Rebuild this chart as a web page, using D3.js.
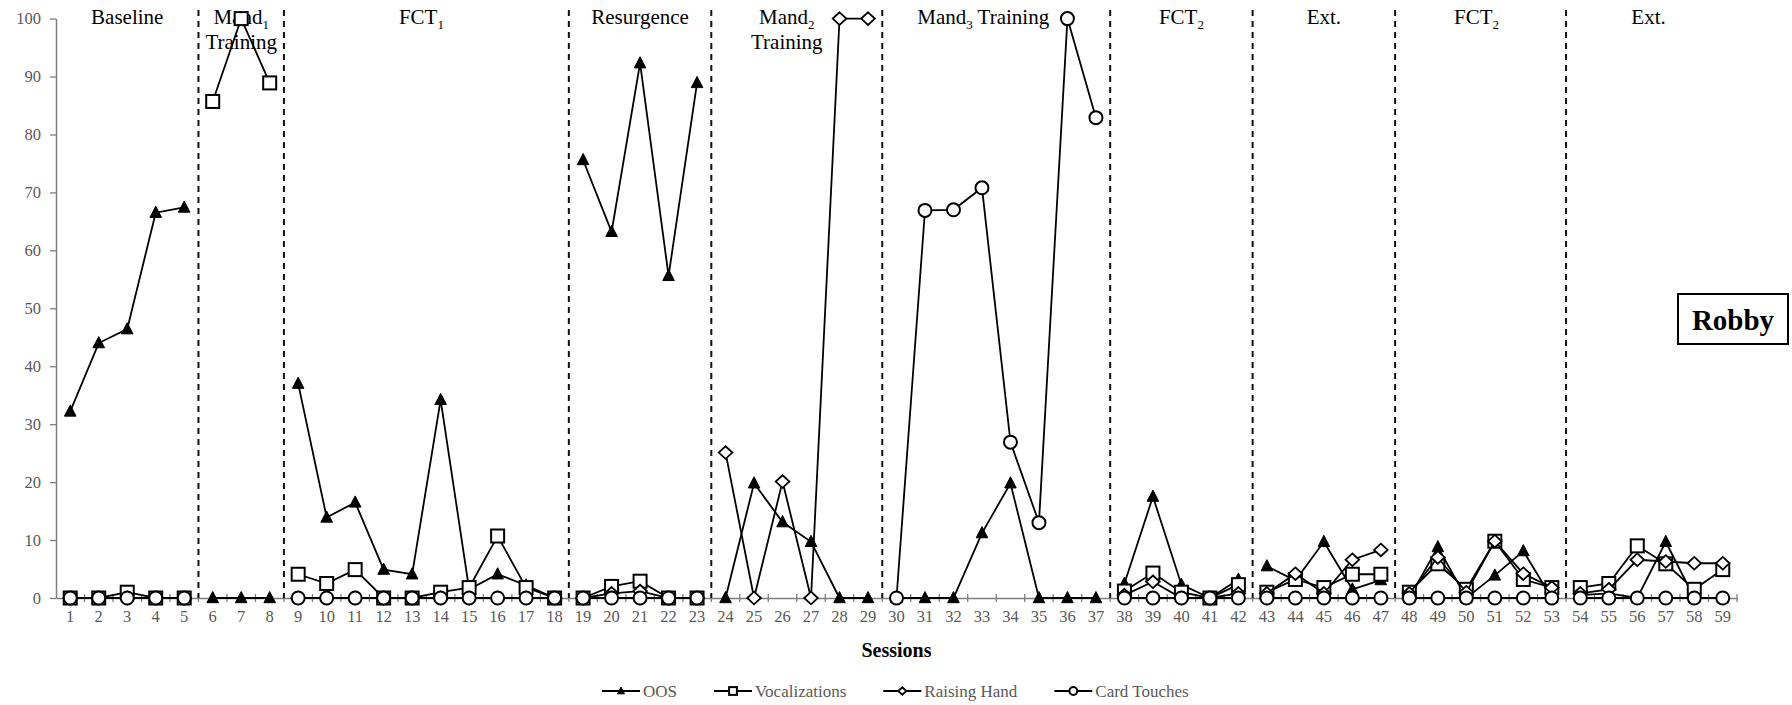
<!DOCTYPE html>
<html>
<head>
<meta charset="utf-8">
<script src="https://cdnjs.cloudflare.com/ajax/libs/d3/7.8.5/d3.min.js"></script>
<style>
  body { margin: 0; background: #fff; }
  svg { display: block; font-family: "Liberation Serif", "Times New Roman", serif; }
</style>
</head>
<body>
<svg id="chart" width="1792" height="705"></svg>
<script>
var sessions = [1, 2, 3, 4, 5, 6, 7, 8, 9, 10, 11, 12, 13, 14, 15, 16, 17, 18, 19, 20,
                21, 22, 23, 24, 25, 26, 27, 28, 29, 30, 31, 32, 33, 34, 35, 36, 37, 38, 39, 40,
                41, 42, 43, 44, 45, 46, 47, 48, 49, 50, 51, 52, 53, 54, 55, 56, 57, 58, 59];

// values per session, null = not measured in that phase
var oos = [32.2, 44, 46.4, 66.5, 67.4,
           0, 0, 0,
           37, 13.9, 16.5, 4.9, 4.1, 34.2, 1.5, 4.1, 2.2, 0,
           75.6, 63.2, 92.3, 55.6, 88.9,
           0, 19.8, 13.1, 9.7, 0, 0,
           0, 0, 0, 11.2, 19.8, 0, 0, 0,
           2.5, 17.5, 2.3, 0, 3.2,
           5.5, 3.0, 9.7, 1.5, 3.1,
           0, 8.8, 0, 3.9, 8.1, 0,
           0.5, 0.8, 0, 9.7, 0, 0];

var vocalizations = [0, 0, 1, 0, 0,
           85.7, 100, 88.9,
           4.1, 2.5, 4.9, 0, 0, 1.0, 1.8, 10.7, 1.8, 0,
           0, 2.0, 2.9, 0, 0,
           null, null, null, null, null, null,
           null, null, null, null, null, null, null, null,
           1.2, 4.3, 1.0, 0, 2.3,
           1.0, 3.2, 1.8, 4.1, 4.1,
           1.0, 5.9, 1.5, 9.8, 3.2, 1.8,
           1.8, 2.5, 9.0, 5.9, 1.5, 4.9];

var raisingHand = [0, 0, 0, 0, 0,
           null, null, null,
           0, 0, 0, 0, 0, 0, 0, 0, 0, 0,
           0, 0.8, 1.2, 0, 0,
           25.1, 0, 20.1, 0, 100, 100,
           null, null, null, null, null, null, null, null,
           0.5, 2.8, 0, 0, 0.8,
           0.8, 4.2, 0.8, 6.6, 8.3,
           0.8, 7.0, 1.0, 9.8, 4.2, 1.8,
           0.8, 1.5, 6.6, 6.3, 6.0, 6.0];

var cardTouches = [0, 0, 0, 0, 0,
           null, null, null,
           0, 0, 0, 0, 0, 0, 0, 0, 0, 0,
           0, 0, 0, 0, 0,
           null, null, null, null, null, null,
           0, 66.9, 67, 70.8, 26.9, 13.0, 100, 82.9,
           0, 0, 0, 0, 0,
           0, 0, 0, 0, 0,
           0, 0, 0, 0, 0, 0,
           0, 0, 0, 0, 0, 0];

var seriesNames = ["OOS", "Vocalizations", "Raising Hand", "Card Touches"];
var phaseEnds = [5, 8, 18, 23, 29, 37, 42, 47, 53, 59];
var phaseLabels = ["Baseline", "Mand_1|Training", "FCT_1", "Resurgence", "Mand_2|Training",
                   "Mand_3 Training", "FCT_2", "Ext.", "FCT_2", "Ext."];
var yTicks = [0, 10, 20, 30, 40, 50, 60, 70, 80, 90, 100];

var svg = d3.select("#chart");
var grey = "#595959";

var x = d3.scaleBand().domain(sessions).range([56, 1737]);
var y = d3.scaleLinear().domain([0, 100]).range([598, 18.6]);
var cx = s => x(s) + x.bandwidth() / 2;

// y axis
var yAxis = svg.append("g")
    .attr("transform", "translate(56,0)")
    .call(d3.axisLeft(y).tickValues(yTicks).tickSize(6).tickSizeOuter(0).tickPadding(9));
yAxis.selectAll("text").attr("font-size", 16.5).attr("fill", grey)
    .attr("font-family", "Liberation Serif");
yAxis.selectAll("line").attr("stroke", "#7f7f7f").attr("stroke-width", 1.3);
yAxis.select(".domain").attr("stroke", "#7f7f7f").attr("stroke-width", 1.5);

// x axis
var xAxis = svg.append("g")
    .attr("transform", "translate(0,598)")
    .call(d3.axisBottom(x).tickSize(0).tickPadding(12));
xAxis.selectAll("text").attr("font-size", 16.5).attr("fill", grey)
    .attr("font-family", "Liberation Serif");
xAxis.select(".domain").attr("stroke", "#7f7f7f").attr("stroke-width", 1.5);

var bounds = sessions.map(s => x(s)).concat([x.range()[1]]);
svg.append("g").selectAll("line")
    .data(bounds.slice(1))
    .enter().append("line")
    .attr("x1", d => d).attr("x2", d => d)
    .attr("y1", 594).attr("y2", 602)
    .attr("stroke", "#7f7f7f").attr("stroke-width", 1.3);

// phase change lines
var phaseStarts = [x.range()[0]].concat(phaseEnds.slice(0, -1).map(e => x(e) + x.bandwidth()));
svg.append("g").selectAll("line")
    .data(phaseStarts.slice(1))
    .enter().append("line")
    .attr("x1", d => d).attr("x2", d => d)
    .attr("y1", 10).attr("y2", 598)
    .attr("stroke", "#111").attr("stroke-width", 2)
    .attr("stroke-dasharray", "6,5");

// phase labels
var labelNudge = [0, 0, -5, 0, -10, -13, 0, 0, -4, -3];
phaseLabels.forEach(function(lbl, i) {
    var x0 = phaseStarts[i];
    var x1 = i < phaseEnds.length - 1 ? phaseStarts[i + 1] : x.range()[1];
    var mid = (x0 + x1) / 2 + labelNudge[i];
    lbl.split("|").forEach(function(line, li) {
        var t = svg.append("text")
            .attr("x", mid).attr("y", 24 + li * 25)
            .attr("text-anchor", "middle")
            .attr("font-size", 21).attr("fill", "#000");
        var parts = line.split(/_(\d)/);
        var shifted = false;
        parts.forEach(function(p, k) {
            if (!p) return;
            var ts = t.append("tspan").text(p);
            if (k % 2 === 1) {
                ts.attr("font-size", 13).attr("dy", 5);
                shifted = true;
            } else if (shifted) {
                ts.attr("dy", -5);
                shifted = false;
            }
        });
    });
});

// markers
function marker(g, type, scale) {
    var k = scale || 1;
    if (type === 0) {
        return g.append("path")
            .attr("d", "M0," + (-6.5 * k) + "L" + (5.8 * k) + "," + (4.7 * k) + "L" + (-5.8 * k) + "," + (4.7 * k) + "Z")
            .attr("fill", "#000").attr("stroke", "#000").attr("stroke-width", 1);
    }
    if (type === 1) {
        return g.append("rect")
            .attr("x", -6.5 * k).attr("y", -6.5 * k).attr("width", 13 * k).attr("height", 13 * k)
            .attr("fill", "#fff").attr("stroke", "#000").attr("stroke-width", 2);
    }
    if (type === 2) {
        return g.append("path")
            .attr("d", "M0," + (-6.3 * k) + "L" + (6.8 * k) + ",0L0," + (6.3 * k) + "L" + (-6.8 * k) + ",0Z")
            .attr("fill", "#fff").attr("stroke", "#000").attr("stroke-width", 1.8);
    }
    return g.append("circle").attr("r", 6.5 * k)
        .attr("fill", "#fff").attr("stroke", "#000").attr("stroke-width", 2);
}

var allSeries = [oos, vocalizations, raisingHand, cardTouches];
var line = d3.line()
    .defined(d => d.v !== null)
    .x(d => cx(d.s))
    .y(d => y(d.v));

allSeries.forEach(function(vals, si) {
    var g = svg.append("g").attr("class", "series-" + si);
    var pts = sessions.map((s, i) => ({s: s, v: vals[i]}));
    phaseEnds.forEach(function(end, pi) {
        var start = pi === 0 ? 1 : phaseEnds[pi - 1] + 1;
        var seg = pts.filter(d => d.s >= start && d.s <= end);
        g.append("path")
            .attr("d", line(seg))
            .attr("fill", "none")
            .attr("stroke", "#000")
            .attr("stroke-width", 1.8);
    });
    pts.filter(d => d.v !== null).forEach(function(d) {
        var m = svg.append("g").attr("transform", "translate(" + cx(d.s) + "," + y(d.v) + ")");
        marker(m, si);
    });
});

// axis title
svg.append("text")
    .attr("x", (x.range()[0] + x.range()[1]) / 2).attr("y", 657)
    .attr("text-anchor", "middle")
    .attr("font-size", 20).attr("font-weight", "bold")
    .text("Sessions");

// legend
var lx = 602;
seriesNames.forEach(function(name, i) {
    var g = svg.append("g");
    g.append("line").attr("x1", lx).attr("x2", lx + 38)
        .attr("y1", 691).attr("y2", 691)
        .attr("stroke", "#000").attr("stroke-width", 1.8);
    var m = g.append("g").attr("transform", "translate(" + (lx + 19) + ",691)");
    marker(m, i, 0.6);
    var t = g.append("text").attr("x", lx + 41).attr("y", 697)
        .attr("font-size", 17).attr("fill", grey).text(name);
    lx += 41 + t.node().getComputedTextLength() + 37;
});

// participant box
svg.append("rect")
    .attr("x", 1678).attr("y", 294).attr("width", 110).attr("height", 50)
    .attr("fill", "#fff").attr("stroke", "#000").attr("stroke-width", 2);
svg.append("text")
    .attr("x", 1733).attr("y", 330)
    .attr("text-anchor", "middle")
    .attr("font-size", 29).attr("font-weight", "bold")
    .text("Robby");
</script>
</body>
</html>
